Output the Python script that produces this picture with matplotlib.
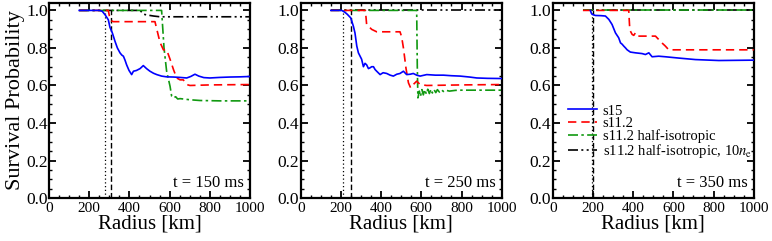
import matplotlib
matplotlib.use("Agg")
import matplotlib.pyplot as plt
from matplotlib.ticker import MultipleLocator

plt.rcParams['font.family'] = 'serif'
plt.rcParams['font.serif'] = ['Liberation Serif', 'DejaVu Serif']
plt.rcParams['mathtext.fontset'] = 'stix'

# ---- t = 150 ms ----
r_s15_a = [150, 250, 265, 280, 295, 303, 315, 328, 340, 353, 362, 370, 378, 386, 398, 411, 420, 435, 453, 469, 485, 502, 520, 536, 560, 585, 619, 650, 685, 705, 726, 745, 770, 800, 850, 900, 950, 1000]
p_s15_a = [1.0, 1.0, 0.995, 0.975, 0.95, 0.91, 0.88, 0.836, 0.80, 0.774, 0.762, 0.756, 0.735, 0.71, 0.68, 0.658, 0.676, 0.68, 0.69, 0.706, 0.69, 0.676, 0.665, 0.658, 0.65, 0.646, 0.645, 0.643, 0.64, 0.648, 0.66, 0.65, 0.642, 0.64, 0.643, 0.645, 0.646, 0.648]
r_s11_a = [150, 295, 302, 310, 320, 400, 500, 527, 536, 552, 569, 585, 602, 619, 635, 652, 668, 685, 701, 800, 1000]
p_s11_a = [1.0, 1.0, 0.96, 0.945, 0.94, 0.94, 0.94, 0.94, 0.90, 0.83, 0.79, 0.79, 0.74, 0.685, 0.64, 0.63, 0.63, 0.605, 0.60, 0.603, 0.605]
r_half_a = [150, 560, 566, 572, 585, 602, 610, 619, 630, 640, 652, 700, 751, 850, 1000]
p_half_a = [1.0, 1.0, 0.90, 0.80, 0.676, 0.596, 0.543, 0.534, 0.54, 0.528, 0.53, 0.524, 0.52, 0.518, 0.518]
r_ne_a = [150, 453, 470, 485, 520, 552, 700, 1000]
p_ne_a = [1.0, 1.0, 0.98, 0.976, 0.97, 0.966, 0.966, 0.966]
shock_a = [280, 308]

# ---- t = 250 ms ----
r_s15_b = [150, 204, 220, 232, 249, 262, 270, 279, 287, 303, 312, 320, 328, 337, 345, 353, 362, 370, 378, 395, 410, 428, 445, 461, 478, 494, 511, 527, 545, 560, 577, 594, 627, 670, 710, 750, 793, 840, 876, 930, 1000]
p_s15_b = [1.0, 1.0, 0.99, 0.979, 0.96, 0.916, 0.88, 0.81, 0.774, 0.74, 0.70, 0.718, 0.71, 0.69, 0.694, 0.70, 0.70, 0.685, 0.676, 0.658, 0.668, 0.664, 0.655, 0.65, 0.66, 0.664, 0.676, 0.658, 0.66, 0.664, 0.655, 0.65, 0.658, 0.655, 0.655, 0.652, 0.65, 0.645, 0.64, 0.638, 0.637]
r_s11_b = [150, 322, 328, 337, 353, 378, 428, 494, 502, 511, 524, 536, 547, 560, 577, 594, 627, 800, 1000]
p_s11_b = [1.0, 1.0, 0.925, 0.916, 0.899, 0.886, 0.886, 0.886, 0.86, 0.80, 0.69, 0.614, 0.587, 0.605, 0.623, 0.605, 0.60, 0.603, 0.605]
r_half_b = [150, 577, 580, 583, 590, 596, 603, 610, 617, 625, 632, 640, 648, 655, 663, 672, 680, 690, 700, 710, 720, 740, 770, 800, 850, 1000]
p_half_b = [1.0, 1.0, 0.70, 0.534, 0.57, 0.543, 0.578, 0.55, 0.578, 0.555, 0.58, 0.557, 0.58, 0.56, 0.578, 0.562, 0.578, 0.565, 0.577, 0.568, 0.575, 0.57, 0.574, 0.575, 0.575, 0.575]
r_ne_b = [150, 1000]
p_ne_b = [1.0, 1.0]
shock_b = [209, 250]

# ---- t = 350 ms ----
r_s15_c = [187, 192, 196, 212, 240, 262, 279, 295, 312, 328, 337, 345, 353, 362, 370, 386, 411, 444, 461, 478, 494, 527, 560, 627, 710, 826, 1000]
p_s15_c = [1.0, 0.985, 0.979, 0.973, 0.972, 0.97, 0.952, 0.925, 0.88, 0.854, 0.827, 0.82, 0.81, 0.80, 0.79, 0.778, 0.774, 0.77, 0.765, 0.774, 0.753, 0.756, 0.753, 0.746, 0.738, 0.733, 0.735]
r_s11_c = [150, 378, 382, 386, 395, 403, 411, 420, 461, 511, 527, 545, 560, 577, 800, 1000]
p_s11_c = [1.0, 1.0, 0.92, 0.89, 0.872, 0.867, 0.88, 0.863, 0.863, 0.863, 0.845, 0.825, 0.81, 0.79, 0.79, 0.79]
r_half_c = [150, 1000]
p_half_c = [1.0, 1.0]
r_ne_c = [150, 1000]
p_ne_c = [1.0, 1.0]
shock_c = [195, 198]

times = ['t = 150 ms', 't = 250 ms', 't = 350 ms']
labels = ['s15', 's11.2', 's11.2 half-isotropic', r's11.2 half-isotropic, 10$n_{\rm e}$']

panels = [
    (r_s15_a, p_s15_a, r_s11_a, p_s11_a, r_half_a, p_half_a, r_ne_a, p_ne_a, shock_a),
    (r_s15_b, p_s15_b, r_s11_b, p_s11_b, r_half_b, p_half_b, r_ne_b, p_ne_b, shock_b),
    (r_s15_c, p_s15_c, r_s11_c, p_s11_c, r_half_c, p_half_c, r_ne_c, p_ne_c, shock_c),
]

fig = plt.figure(figsize=(7.72, 2.41), dpi=100)
lefts = [0.0635, 0.3895, 0.716]

for i, (left, d) in enumerate(zip(lefts, panels)):
    ax = fig.add_axes([left, 0.178, 0.2604, 0.81])
    rs15, ps15, rs11, ps11, rh, ph, rn, pn, shock = d
    ax.plot(rs15, ps15, color='#0000ff', lw=1.2, label=labels[0], zorder=4)
    ax.plot(rs11, ps11, color='#ff0000', lw=1.2, dashes=(5, 3), label=labels[1], zorder=3)
    ax.plot(rh, ph, color='#119911', lw=1.2, dashes=(6, 2, 1.5, 2), label=labels[2], zorder=2)
    ax.plot(rn, pn, color='black', lw=1.2, dashes=(6, 2, 1.2, 2, 1.2, 2), label=labels[3], zorder=1)
    ax.plot([shock[0], shock[0]], [0, 1.0], color='black', lw=0.9, ls=(0, (1, 2)))
    ax.plot([shock[1], shock[1]], [0, 1.0], color='black', lw=1.0, dashes=(4, 2))

    ax.set_xlim(0, 1000)
    ax.set_ylim(0, 1.04)
    ax.xaxis.set_major_locator(MultipleLocator(200))
    ax.xaxis.set_minor_locator(MultipleLocator(50))
    ax.yaxis.set_major_locator(MultipleLocator(0.2))
    ax.yaxis.set_minor_locator(MultipleLocator(0.05))
    ax.tick_params(which='both', direction='in', top=True, right=True)
    ax.tick_params(axis='x', labelsize=11, pad=2.5)
    ax.tick_params(axis='y', labelsize=12.5, pad=1)
    ax.tick_params(which='major', length=5, width=1.3)
    ax.tick_params(which='minor', length=2.5, width=1.0)
    for sp in ax.spines.values():
        sp.set_linewidth(1.6)
    ax.set_xlabel('Radius [km]', fontsize=15, labelpad=0)
    if i == 0:
        ax.set_ylabel('Survival Probability', fontsize=16, labelpad=1)
    ax.text(0.97, 0.035, times[i], transform=ax.transAxes, ha='right', va='bottom', fontsize=12)
    if i == 2:
        ax.legend(loc='upper left', bbox_to_anchor=(0.045, 0.51), frameon=False, fontsize=10.5,
                  handlelength=2.0, handletextpad=0.4, labelspacing=-0.05, borderaxespad=0)

fig.savefig('out.png', dpi=100)
